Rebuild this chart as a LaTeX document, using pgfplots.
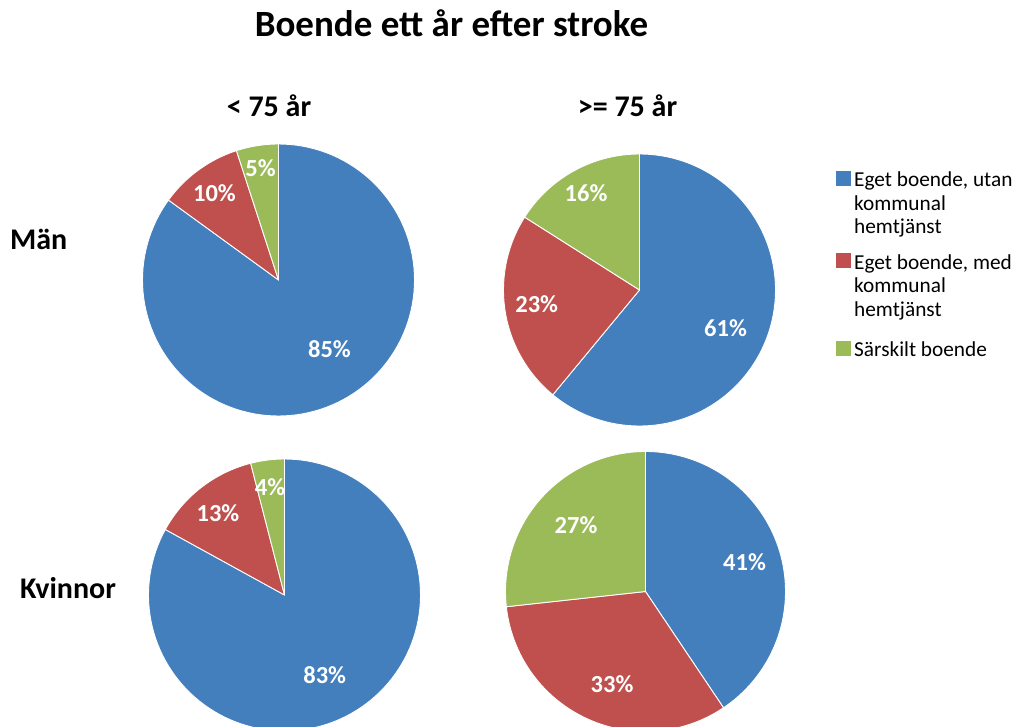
\documentclass[border=0pt]{standalone}
\usepackage{pgfplots}
\pgfplotsset{compat=1.18}
\usepackage{pgfplotstable}
\usepackage{fontspec}
\setmainfont{Carlito}
\definecolor{pblue}{HTML}{437EBD}
\definecolor{pred}{HTML}{C0504D}
\definecolor{pgreen}{HTML}{9BBB59}

% one row per pie: centre, radius (px), shares in percent
\pgfplotstableread{
cx    cy    r   blue red green
278.5 280   136 85   10  5
639.5 290   136 61   23  16
284.5 595   136 83   13  4
645.5 591.5 140 41   33  27
}\piedata

\newcommand{\pieslice}[6]{% cx cy r from to colour
  \edef\tmp{\noexpand\addplot[fill=#6, draw=white, line width=0.9pt, line join=round,
     domain=#4:#5, samples=120, variable=\noexpand\t]
     ({#1+#3*cos(\noexpand\t)}, {#2-#3*sin(\noexpand\t)}) -- (axis cs:#1,#2) -- cycle;}%
  \tmp}

\newcommand{\drawpie}[1]{%
  \pgfplotstablegetelem{#1}{cx}\of\piedata \let\cx\pgfplotsretval
  \pgfplotstablegetelem{#1}{cy}\of\piedata \let\cy\pgfplotsretval
  \pgfplotstablegetelem{#1}{r}\of\piedata \let\rr\pgfplotsretval
  \pgfplotstablegetelem{#1}{blue}\of\piedata \let\vA\pgfplotsretval
  \pgfplotstablegetelem{#1}{red}\of\piedata \let\vB\pgfplotsretval
  \pgfplotstablegetelem{#1}{green}\of\piedata \let\vC\pgfplotsretval
  \pgfmathsetmacro\ssum{\vA+\vB+\vC}%
  \pgfmathsetmacro\aA{90-360*(\vA/\ssum)}%
  \pgfmathsetmacro\aB{\aA-360*(\vB/\ssum)}%
  \pieslice{\cx}{\cy}{\rr}{\aA}{90}{pblue}%
  \pieslice{\cx}{\cy}{\rr}{\aB}{\aA}{pred}%
  \pieslice{\cx}{\cy}{\rr}{-270}{\aB}{pgreen}%
}

\begin{document}
\begin{tikzpicture}[
  lbl/.style={font=\fontsize{24.5}{29}\selectfont\bfseries, text=white, anchor=base, inner sep=0pt},
  hdr/.style={font=\fontsize{30}{36}\selectfont\bfseries, anchor=base, inner sep=0pt},
  leg/.style={font=\fontsize{21.3}{25}\selectfont, anchor=base west, inner sep=0pt},
]
\begin{axis}[
  scale only axis, width=1015pt, height=727pt,
  xmin=0, xmax=1015, ymin=0, ymax=727, y dir=reverse,
  hide axis, clip=true,
]
\path[draw=none] (axis cs:0,0) rectangle (axis cs:1015,727);
\drawpie{0}
\drawpie{1}
\drawpie{2}
\drawpie{3}

% title and headers
\node[font=\fontsize{37}{44}\selectfont\bfseries, anchor=base, inner sep=0pt] at (axis cs:451.5,37) {Boende ett år efter stroke};
\node[hdr] at (axis cs:269,117) {< 75 år};
\node[hdr] at (axis cs:627.5,117) {>= 75 år};
\node[hdr, anchor=base west] at (axis cs:10,250) {Män};
\node[hdr, anchor=base west] at (axis cs:20,598.5) {Kvinnor};

% data labels
\node[lbl] at (axis cs:329.5,357) {85\%};
\node[lbl] at (axis cs:214.5,202) {10\%};
\node[lbl] at (axis cs:260.5,177) {5\%};
\node[lbl] at (axis cs:725.5,336.7) {61\%};
\node[lbl] at (axis cs:536.7,313) {23\%};
\node[lbl] at (axis cs:586,201.7) {16\%};
\node[lbl] at (axis cs:324.7,683.3) {83\%};
\node[lbl] at (axis cs:218,521.7) {13\%};
\node[lbl] at (axis cs:270,495) {4\%};
\node[lbl] at (axis cs:744.5,570) {41\%};
\node[lbl] at (axis cs:612,692) {33\%};
\node[lbl] at (axis cs:576,533) {27\%};

% legend
\fill[pblue] (axis cs:835.7,170.7) rectangle (axis cs:850.7,185.7);
\node[leg] at (axis cs:854,186.7) {Eget boende, utan};
\node[leg] at (axis cs:854,210.5) {kommunal};
\node[leg] at (axis cs:854,233.8) {hemtjänst};
\fill[pred] (axis cs:835.7,253.5) rectangle (axis cs:850.7,268.5);
\node[leg] at (axis cs:854,269.3) {Eget boende, med};
\node[leg] at (axis cs:854,293) {kommunal};
\node[leg] at (axis cs:854,316.5) {hemtjänst};
\fill[pgreen] (axis cs:835.7,341) rectangle (axis cs:850.7,356);
\node[leg] at (axis cs:854,356.5) {Särskilt boende};
\end{axis}
\end{tikzpicture}
\end{document}
